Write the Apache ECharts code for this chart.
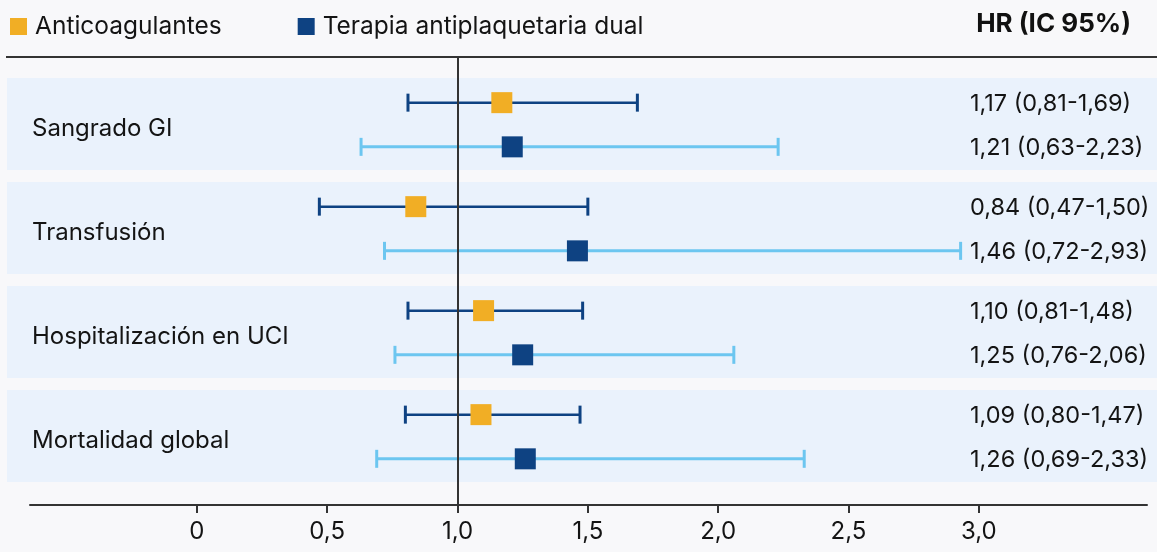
<!DOCTYPE html>
<html>
<head>
<meta charset="utf-8">
<script src="https://cdn.jsdelivr.net/npm/echarts@6/dist/echarts.min.js"></script>
<style>
html,body{margin:0;padding:0;background:#f8f8fa;}
#c{width:1157px;height:552px;}
</style>
</head>
<body>
<div id="c"></div>
<script>
// ---- Data ----
const categories = ['Sangrado GI', 'Transfusión', 'Hospitalización en UCI', 'Mortalidad global'];
const seriesNames = ['Anticoagulantes', 'Terapia antiplaquetaria dual'];
const acHR   = [1.17, 0.84, 1.10, 1.09];
const acLow  = [0.81, 0.47, 0.81, 0.80];
const acHigh = [1.69, 1.50, 1.48, 1.47];
const dpHR   = [1.21, 1.46, 1.25, 1.26];
const dpLow  = [0.63, 0.72, 0.76, 0.69];
const dpHigh = [2.23, 2.93, 2.06, 2.33];
const xTicks = [0, 0.5, 1, 1.5, 2, 2.5, 3];
const tickLabels = ['0', '0,5', '1,0', '1,5', '2,0', '2,5', '3,0'];
const columnTitle = 'HR (IC 95%)';

// ---- Layout helpers ----
const FONT = 'Inter, "Noto Sans", sans-serif';
const TEXT = '#141414';
const ORANGE = '#f1ae25';
const NAVY = '#0e4282';
const LIGHT = '#6cc6f0';
const PANEL = '#eaf2fc';
const GROUP_OFFSET = 0.644, HALF = 0.442, AC_OFF = -0.205, DP_OFF = 0.22;

const fmt = v => v.toFixed(2).replace('.', ',');
const hrLabel = (h, l, u) => fmt(h) + ' (' + fmt(l) + '-' + fmt(u) + ')';

const acY = categories.map((c, i) => i + GROUP_OFFSET + AC_OFF);
const dpY = categories.map((c, i) => i + GROUP_OFFSET + DP_OFF);

function errorBar(color, lw) {
  return function (params, api) {
    const lo = api.coord([api.value(0), api.value(2)]);
    const hi = api.coord([api.value(1), api.value(2)]);
    const cap = 9;
    return {
      type: 'group',
      children: [
        { type: 'line', shape: { x1: lo[0], y1: lo[1], x2: hi[0], y2: hi[1] }, style: { stroke: color, lineWidth: lw } },
        { type: 'line', shape: { x1: lo[0], y1: lo[1] - cap, x2: lo[0], y2: lo[1] + cap }, style: { stroke: color, lineWidth: 3 } },
        { type: 'line', shape: { x1: hi[0], y1: hi[1] - cap, x2: hi[0], y2: hi[1] + cap }, style: { stroke: color, lineWidth: 3 } }
      ]
    };
  };
}

const chart = echarts.init(document.getElementById('c'));
chart.setOption({
  backgroundColor: '#f8f8fa',
  animation: false,
  textStyle: { fontFamily: FONT },
  title: {
    text: columnTitle, right: 21, top: 6,
    textStyle: { fontFamily: FONT, fontSize: 26, fontWeight: 'bold', color: '#111' }
  },
  legend: {
    left: 5, top: 9,
    icon: 'rect', itemWidth: 17, itemHeight: 17, itemGap: 76,
    data: seriesNames,
    textStyle: { fontFamily: FONT, fontSize: 24.5, color: TEXT, padding: [0, 0, 0, 3] }
  },
  graphic: [
    { type: 'line', shape: { x1: 6, y1: 57, x2: 1157, y2: 57 }, style: { stroke: '#333', lineWidth: 2 }, z: 10 }
  ],
  grid: { left: 30, right: 10, top: 57, bottom: 47 },
  xAxis: {
    type: 'value', min: -0.64, max: 3.645, position: 'bottom',
    splitLine: { show: false },
    axisLine: { show: true, onZero: false, lineStyle: { color: '#333', width: 2 } },
    axisTick: { show: true, customValues: xTicks, length: 8, lineStyle: { color: '#333', width: 2 } },
    axisLabel: {
      customValues: xTicks, margin: 15, fontSize: 24, color: TEXT, fontFamily: FONT,
      formatter: v => tickLabels[xTicks.indexOf(v)] ?? ''
    }
  },
  yAxis: { type: 'value', inverse: true, min: 0, max: 4.308, show: false },
  series: [
    {
      type: 'custom', name: 'panels', z: 0, silent: true,
      data: categories.map((c, i) => [i]),
      renderItem: function (params, api) {
        const i = api.value(0);
        const cy = api.coord([0, i + GROUP_OFFSET])[1];
        const h = api.size([0, HALF])[1];
        return {
          type: 'group',
          children: [
            { type: 'rect', shape: { x: 7, y: cy - h, width: api.getWidth() - 7, height: 2 * h }, style: { fill: PANEL } },
            { type: 'text', style: { x: 32, y: cy + 5, text: categories[i], font: '24px ' + FONT, fill: TEXT, verticalAlign: 'middle' } }
          ]
        };
      }
    },
    {
      type: 'custom', name: 'acCI', z: 2, silent: true,
      data: categories.map((c, i) => [acLow[i], acHigh[i], acY[i]]),
      renderItem: errorBar(NAVY, 2.5)
    },
    {
      type: 'custom', name: 'dpCI', z: 2, silent: true,
      data: categories.map((c, i) => [dpLow[i], dpHigh[i], dpY[i]]),
      renderItem: errorBar(LIGHT, 3)
    },
    {
      type: 'scatter', name: seriesNames[0], z: 5,
      symbol: 'rect', symbolSize: 21,
      itemStyle: { color: ORANGE, opacity: 1 },
      data: categories.map((c, i) => [acHR[i], acY[i]]),
      markLine: {
        silent: true, symbol: 'none', label: { show: false },
        lineStyle: { color: '#333', width: 2, type: 'solid' },
        data: [{ xAxis: 1 }]
      }
    },
    {
      type: 'scatter', name: seriesNames[1], z: 5,
      symbol: 'rect', symbolSize: 21,
      itemStyle: { color: NAVY, opacity: 1 },
      data: categories.map((c, i) => [dpHR[i], dpY[i]])
    },
    {
      type: 'custom', name: 'hrText', z: 6, silent: true,
      data: categories.flatMap((c, i) => [[i, 0, acY[i]], [i, 1, dpY[i]]]),
      renderItem: function (params, api) {
        const i = api.value(0), s = api.value(1);
        const y = api.coord([0, api.value(2)])[1];
        const txt = s === 0 ? hrLabel(acHR[i], acLow[i], acHigh[i]) : hrLabel(dpHR[i], dpLow[i], dpHigh[i]);
        const cs = params.coordSys;
        return { type: 'text', style: { x: cs.x + cs.width - 177, y: y + 1, text: txt, font: '23.5px ' + FONT, fill: TEXT, verticalAlign: 'middle' } };
      }
    }
  ]
});
</script>
</body>
</html>
